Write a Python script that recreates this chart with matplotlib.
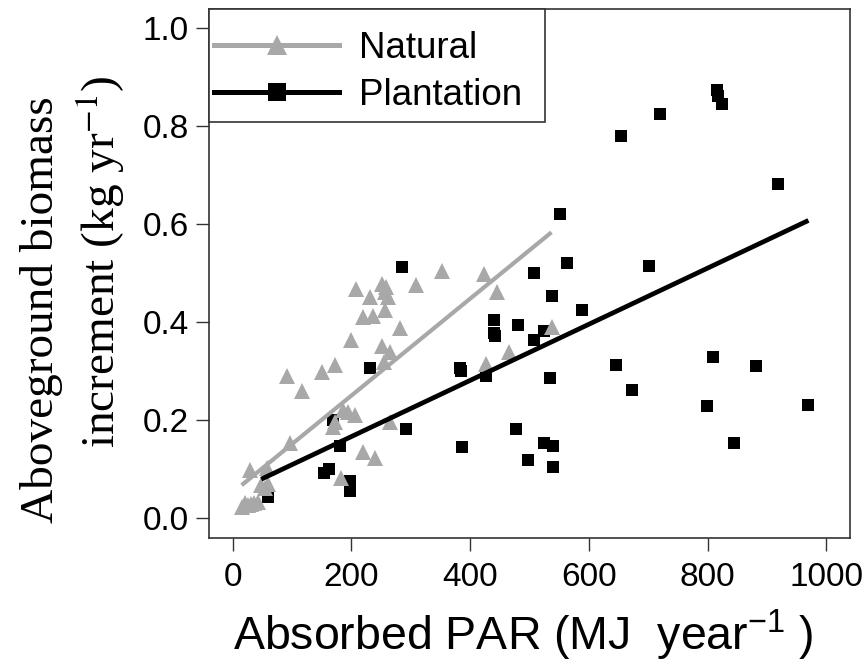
import matplotlib
matplotlib.use('Agg')
import matplotlib.pyplot as plt
from matplotlib.lines import Line2D
from matplotlib.patches import Rectangle

plt.rcParams['font.family'] = ['Liberation Sans', 'DejaVu Sans']
plt.rcParams['mathtext.fontset'] = 'custom'
plt.rcParams['mathtext.rm'] = 'Liberation Sans'
plt.rcParams['mathtext.it'] = 'Liberation Sans:italic'
plt.rcParams['mathtext.bf'] = 'Liberation Sans:bold'

# ---------------- data ----------------
natural_x = [15, 20, 25, 30, 35, 42, 48, 55, 60, 29, 57, 96, 92, 117, 151, 172,
             169, 172, 183, 186, 195, 206, 200, 208, 219, 239, 220, 237, 232, 252,
             259, 256, 262, 256, 251, 265, 255, 281, 265, 309, 352, 423, 445, 427,
             466, 538]
natural_y = [0.023, 0.030, 0.026, 0.028, 0.030, 0.033, 0.067, 0.062, 0.070, 0.098,
             0.101, 0.152, 0.289, 0.259, 0.297, 0.312, 0.186, 0.195, 0.081, 0.220,
             0.217, 0.210, 0.363, 0.468, 0.135, 0.122, 0.411, 0.413, 0.451, 0.478,
             0.471, 0.462, 0.451, 0.424, 0.350, 0.339, 0.318, 0.388, 0.196, 0.475,
             0.505, 0.497, 0.461, 0.315, 0.339, 0.390]

plantation_x = [59, 154, 162, 197, 197, 180, 169, 231, 285, 292, 383, 385, 387, 426,
                440, 440, 442, 480, 478, 498, 508, 507, 524, 540, 540, 534, 538, 525,
                551, 563, 588, 646, 654, 673, 702, 720, 799, 810, 816, 818, 825, 845,
                882, 919, 970]
plantation_y = [0.043, 0.091, 0.100, 0.075, 0.055, 0.147, 0.200, 0.307, 0.513, 0.181,
                0.307, 0.300, 0.145, 0.289, 0.404, 0.378, 0.372, 0.394, 0.181, 0.118,
                0.500, 0.363, 0.153, 0.146, 0.104, 0.285, 0.453, 0.382, 0.621, 0.520,
                0.424, 0.313, 0.779, 0.262, 0.514, 0.824, 0.228, 0.328, 0.874, 0.861,
                0.846, 0.153, 0.311, 0.681, 0.230]

# fitted lines (intercept, slope, x-range)
natural_fit = {'a': 0.052, 'b': 0.000989, 'x': [15, 537]}
plantation_fit = {'a': 0.0515, 'b': 0.000573, 'x': [48, 970]}

x_ticks = [0, 200, 400, 600, 800, 1000]
y_ticks = [0.0, 0.2, 0.4, 0.6, 0.8, 1.0]
series_labels = ['Natural', 'Plantation']

GRAY = '#A8A8A8'
EDGE = '#333333'

# ---------------- figure ----------------
W, H = 864, 670
AX_L, AX_R, AX_T, AX_B = 209, 850, 8.5, 537.5
fig = plt.figure(figsize=(W / 100, H / 100), dpi=100)
ax = fig.add_axes([AX_L / W, 1 - AX_B / H, (AX_R - AX_L) / W, (AX_B - AX_T) / H])

ax.plot(plantation_x, plantation_y, linestyle='none', marker='s', ms=9.2,
        color='black', mec='black', mew=0, zorder=3)
ax.plot(natural_x, natural_y, linestyle='none', marker='^', ms=11,
        color=GRAY, mec=GRAY, mew=0, zorder=4)

nx = natural_fit['x']
ax.plot(nx, [natural_fit['a'] + natural_fit['b'] * v for v in nx],
        color=GRAY, lw=3.0, solid_capstyle='butt', zorder=5)
px = plantation_fit['x']
ax.plot(px, [plantation_fit['a'] + plantation_fit['b'] * v for v in px],
        color='black', lw=3.4, solid_capstyle='butt', zorder=6)

ax.set_xlim(-40, 1040)
ax.set_ylim(-0.04, 1.04)
ax.set_xticks(x_ticks)
ax.set_xticklabels([str(v) for v in x_ticks])
ax.set_yticks(y_ticks)
ax.set_yticklabels(['%.1f' % v for v in y_ticks])
ax.tick_params(axis='both', direction='out', length=9.5, width=1.0,
               color=EDGE, labelsize=24, pad=5)
ax.tick_params(axis='x', pad=8)
for s in ax.spines.values():
    s.set_color(EDGE)
    s.set_linewidth(1.2)

# legend box (frame drawn separately so its padding matches the original)
aw, ah = AX_R - AX_L, AX_B - AX_T
frame = Rectangle((0, 1 - (122 - AX_T) / ah), (545 - AX_L) / aw, (122 - AX_T) / ah,
                  transform=ax.transAxes, facecolor='white', edgecolor=EDGE,
                  linewidth=1.2, zorder=9, clip_on=False)
ax.add_patch(frame)

handles = [
    Line2D([], [], color=GRAY, lw=3.6, marker='^', ms=15, mec=GRAY, mew=0),
    Line2D([], [], color='black', lw=3.6, marker='s', ms=13, mec='black', mew=0),
]
leg = ax.legend(handles, series_labels, loc='upper left',
                bbox_to_anchor=((214 - AX_L) / aw, 1 - (31 - AX_T) / ah),
                borderaxespad=0, fontsize=26.5, handlelength=3.4, handletextpad=0.55,
                labelspacing=0.33, borderpad=0, frameon=False)
leg.set_zorder(10)

# axis titles
fig.text(42 / W, 1 - 310 / H, 'Aboveground biomass', rotation=90,
         family='Liberation Serif', size=34, ha='center', va='center')
fig.text(100 / W, 1 - 262 / H, 'increment (kg yr$^{-1}$)', rotation=90,
         family='Liberation Serif', math_fontfamily='stix', size=34,
         ha='center', va='center')
fig.text(523 / W, 1 - 635 / H, 'Absorbed PAR (MJ  year$^{-1}$ )',
         size=33.5, ha='center', va='center')

fig.savefig('out.png', dpi=100)
